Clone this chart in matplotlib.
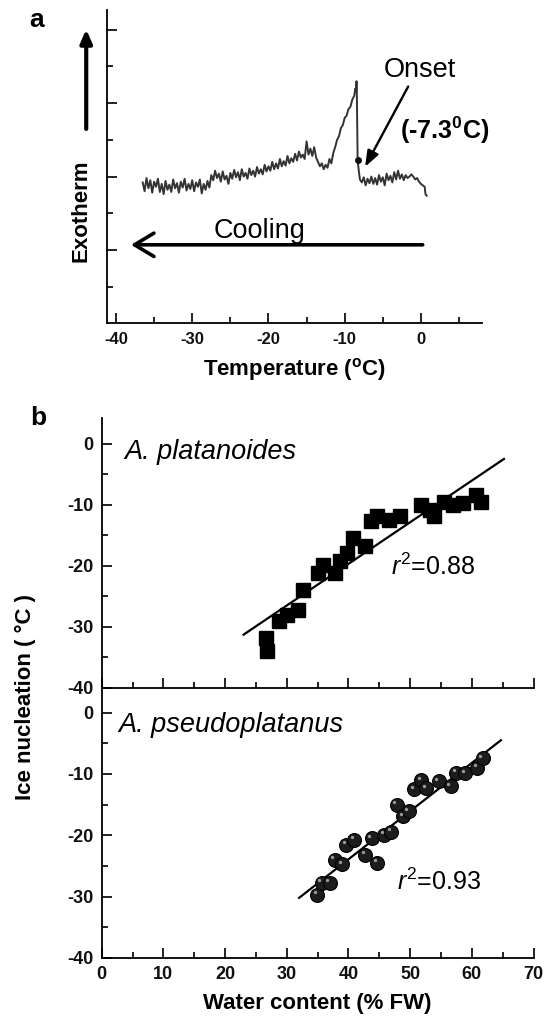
import numpy as np
import matplotlib
matplotlib.use("Agg")
import matplotlib.pyplot as plt
from matplotlib.ticker import FixedLocator, NullFormatter
from matplotlib.transforms import offset_copy

plt.rcParams['font.family'] = ['Liberation Sans', 'DejaVu Sans']
plt.rcParams['mathtext.fontset'] = 'custom'
plt.rcParams['mathtext.rm'] = 'Liberation Sans'
plt.rcParams['mathtext.it'] = 'Liberation Sans:italic'
plt.rcParams['mathtext.bf'] = 'Liberation Sans:bold'
plt.rcParams['axes.unicode_minus'] = False

# panel a: DSC cooling trace (noise included)
temp = [-36.50, -36.25, -36.00, -35.75, -35.50, -35.25, -35.00, -34.75, -34.50, -34.25,
        -34.00, -33.75, -33.50, -33.25, -33.00, -32.75, -32.50, -32.25, -32.00, -31.75,
        -31.50, -31.25, -31.00, -30.75, -30.50, -30.25, -30.00, -29.75, -29.50, -29.25,
        -29.00, -28.75, -28.50, -28.25, -28.00, -27.75, -27.50, -27.25, -27.00, -26.75,
        -26.50, -26.25, -26.00, -25.75, -25.50, -25.25, -25.00, -24.75, -24.50, -24.25,
        -24.00, -23.75, -23.50, -23.25, -23.00, -22.75, -22.50, -22.25, -22.00, -21.75,
        -21.50, -21.25, -21.00, -20.75, -20.50, -20.25, -20.00, -19.75, -19.50, -19.25,
        -19.00, -18.75, -18.50, -18.25, -18.00, -17.75, -17.50, -17.25, -17.00, -16.75,
        -16.50, -16.25, -16.00, -15.75, -15.50, -15.25, -15.00, -14.75, -14.50, -14.25,
        -14.00, -13.75, -13.50, -13.25, -13.00, -12.75, -12.50, -12.25, -12.00, -11.75,
        -11.50, -11.25, -11.00, -10.75, -10.50, -10.25, -10.00, -9.75, -9.50, -9.25,
        -9.00, -8.75, -8.60, -8.50, -8.45, -8.40, -8.35, -8.30, -8.15, -8.00,
        -7.75, -7.50, -7.25, -7.00, -6.75, -6.50, -6.25, -6.00, -5.75, -5.50,
        -5.25, -5.00, -4.75, -4.50, -4.25, -4.00, -3.75, -3.50, -3.25, -3.00,
        -2.75, -2.50, -2.25, -2.00, -1.75, -1.50, -1.25, -1.00, -0.75, -0.50,
        -0.25, 0.00, 0.25, 0.50, 0.60, 0.75]
signal = [1.92, 1.80, 1.98, 1.84, 1.95, 1.78, 1.93, 1.86, 1.97, 1.79,
          1.90, 1.76, 1.94, 1.82, 1.89, 1.79, 1.96, 1.84, 1.91, 1.78,
          1.93, 1.85, 1.97, 1.81, 1.90, 1.83, 1.95, 1.80, 1.92, 1.86,
          1.96, 1.77, 1.90, 1.82, 1.94, 1.85, 2.02, 1.95, 2.08, 1.98,
          2.04, 1.93, 2.07, 1.96, 2.01, 1.90, 2.05, 1.97, 2.09, 1.99,
          2.06, 1.95, 2.10, 2.00, 2.05, 1.97, 2.11, 2.02, 2.08, 2.00,
          2.13, 2.04, 2.10, 2.03, 2.16, 2.07, 2.14, 2.08, 2.20, 2.10,
          2.18, 2.11, 2.24, 2.14, 2.21, 2.15, 2.28, 2.18, 2.25, 2.20,
          2.31, 2.22, 2.34, 2.26, 2.30, 2.24, 2.48, 2.30, 2.38, 2.28,
          2.40, 2.26, 2.20, 2.14, 2.18, 2.10, 2.16, 2.12, 2.24, 2.18,
          2.32, 2.40, 2.50, 2.55, 2.66, 2.70, 2.80, 2.83, 2.92, 2.95,
          3.05, 3.10, 3.20, 3.15, 3.30, 3.10, 2.60, 2.22, 2.08, 1.96,
          1.92, 1.99, 1.88, 1.97, 1.91, 2.00, 1.90, 1.98, 1.89, 2.02,
          1.93, 1.99, 1.88, 2.04, 1.95, 2.01, 1.92, 2.06, 1.96, 2.08,
          1.97, 2.03, 1.95, 2.02, 1.98, 2.00, 2.03, 2.00, 1.96, 1.98,
          1.93, 1.90, 1.88, 1.86, 1.76, 1.74]
onset_t = -8.3
onset_s = 2.22

# panel b: ice nucleation vs water content
plat_wc = [26.7, 26.8, 28.7, 30.1, 31.9, 32.7, 35.0, 35.8, 37.8, 38.7,
           39.8, 40.7, 42.7, 43.7, 44.7, 46.6, 48.4, 51.8, 53.2, 53.8,
           55.5, 56.9, 58.6, 60.6, 61.4]
plat_ice = [-31.9, -34.0, -29.1, -28.0, -27.3, -24.0, -21.2, -19.9, -21.2, -19.3,
            -17.9, -15.5, -16.8, -12.7, -11.9, -12.5, -11.9, -10.0, -10.8, -11.9,
            -9.5, -10.0, -9.7, -8.4, -9.5]
plat_fit_x = [23.0, 65.2]
plat_fit_y = [-31.3, -2.5]

pseu_wc = [34.9, 35.7, 37.0, 37.8, 39.0, 39.6, 40.9, 42.7, 43.8, 44.7,
           45.8, 46.9, 47.8, 48.9, 49.8, 50.7, 51.8, 52.6, 54.6, 56.6,
           57.5, 58.9, 60.9, 61.8]
pseu_ice = [-29.7, -27.7, -27.7, -24.0, -24.7, -21.5, -20.7, -23.2, -20.5, -24.5,
            -19.9, -19.4, -15.0, -16.9, -16.1, -12.5, -11.0, -12.3, -11.2, -12.0,
            -9.8, -9.9, -9.0, -7.4]
pseu_fit_x = [32.0, 64.7]
pseu_fit_y = [-30.2, -4.5]


def style_axis(ax):
    ax.spines['top'].set_visible(False)
    ax.spines['right'].set_visible(False)
    ax.spines['left'].set_linewidth(1.3)
    ax.spines['bottom'].set_linewidth(1.3)
    ax.tick_params(which='both', direction='in', width=1.3, colors='#111111')
    ax.tick_params(which='major', length=7, labelsize=13, pad=6)
    ax.tick_params(which='minor', length=4)
    ax.patch.set_visible(False)


def main():
    fig = plt.figure(figsize=(5.52, 10.19), dpi=100)

    # ---- panel a ----
    ax = fig.add_axes([0.1944, 0.6827, 0.6786, 0.3075])
    style_axis(ax)
    ax.plot(temp, signal, color='#333333', lw=1.4)
    ax.plot([onset_t], [onset_s], 'o', color='#111111', ms=4)
    ax.set_xlim(-41.14, 8.0)
    ax.set_ylim(0, 4.27)
    ax.xaxis.set_major_locator(FixedLocator([-40, -30, -20, -10, 0]))
    ax.xaxis.set_minor_locator(FixedLocator([-35, -25, -15, -5, 5]))
    ax.yaxis.set_major_locator(FixedLocator([1, 2, 3, 4]))
    ax.yaxis.set_minor_locator(FixedLocator([0.5, 1.5, 2.5, 3.5]))
    ax.yaxis.set_major_formatter(NullFormatter())
    ax.tick_params(axis='x', labelsize=12)
    for lab in ax.get_xticklabels():
        lab.set_fontweight('bold')
    ax.set_xlabel(r'Temperature ($^\mathbf{o}$C)', fontsize=16, fontweight='bold', labelpad=7)

    ax.annotate('', xy=(-38.4, 1.07), xytext=(0.6, 1.07),
                arrowprops=dict(arrowstyle='->,head_length=1.0,head_width=0.6',
                                mutation_scale=14, lw=2.6, color='black'))
    ax.text(-21.2, 1.26, 'Cooling', fontsize=19.5, ha='center', va='center')
    ax.annotate('', xy=(-7.5, 2.1), xytext=(-1.5, 3.26),
                arrowprops=dict(arrowstyle='-|>,head_length=0.8,head_width=0.3',
                                mutation_scale=12, lw=1.7, color='black'))
    ax.text(-0.1, 3.45, 'Onset', fontsize=19.5, ha='center', va='center')
    ax.text(3.1, 2.63, r'(-7.3$^\mathbf{0}$C)', fontsize=18, fontweight='bold',
            ha='center', va='center')
    ax.annotate('', xy=(-0.0563, 0.947), xytext=(-0.0563, 0.6115),
                xycoords='axes fraction', textcoords='axes fraction',
                arrowprops=dict(arrowstyle='-|>,head_length=0.8,head_width=0.35',
                                mutation_scale=10, lw=3, color='black'),
                annotation_clip=False)
    ax.text(-0.0705, 0.3594, 'Exotherm', transform=ax.transAxes, rotation=90,
            fontsize=16, fontweight='bold', ha='center', va='center')
    fig.text(0.0668, 0.980, 'a', fontsize=19, fontweight='bold', ha='center', va='center')

    # ---- panel b, top ----
    ax1 = fig.add_axes([0.1842, 0.3251, 0.7824, 0.2650])
    style_axis(ax1)
    ax1.plot(plat_wc, plat_ice, 's', color='black', ms=10)
    ax1.plot(plat_fit_x, plat_fit_y, color='black', lw=1.6)
    ax1.set_xlim(0, 70)
    ax1.set_ylim(-40, 4.26)
    ax1.xaxis.set_major_locator(FixedLocator(list(range(0, 71, 10))))
    ax1.xaxis.set_minor_locator(FixedLocator(list(range(5, 70, 10))))
    ax1.xaxis.set_major_formatter(NullFormatter())
    ax1.yaxis.set_major_locator(FixedLocator([-40, -30, -20, -10, 0]))
    ax1.yaxis.set_minor_locator(FixedLocator([-35, -25, -15, -5]))
    for lab in ax1.get_yticklabels():
        lab.set_fontweight('bold')
    ax1.text(3.6, -1.4, 'A. platanoides', fontsize=19.5, style='italic', va='center')
    ax1.text(46.9, -20.1, r'$r^{2}$=0.88', fontsize=18, va='center')
    fig.text(0.0694, 0.5895, 'b', fontsize=19, fontweight='bold', ha='center', va='center')

    # ---- panel b, bottom ----
    ax2 = fig.add_axes([0.1842, 0.0599, 0.7824, 0.2653])
    style_axis(ax2)
    ax2.plot(pseu_fit_x, pseu_fit_y, color='black', lw=1.6, zorder=2)
    ax2.plot(pseu_wc, pseu_ice, 'o', color='#1c1c1c', mec='black', mew=0.8, ms=10, zorder=3)
    shine = offset_copy(ax2.transData, fig=fig, x=-1.8, y=1.8, units='points')
    ax2.plot(pseu_wc, pseu_ice, 'o', color='#9a9a9a', mec='none', ms=2.4,
             transform=shine, zorder=4)
    ax2.set_xlim(0, 70)
    ax2.set_ylim(-40, 4.08)
    ax2.xaxis.set_major_locator(FixedLocator(list(range(0, 71, 10))))
    ax2.xaxis.set_minor_locator(FixedLocator(list(range(5, 70, 10))))
    ax2.yaxis.set_major_locator(FixedLocator([-40, -30, -20, -10, 0]))
    ax2.yaxis.set_minor_locator(FixedLocator([-35, -25, -15, -5]))
    for lab in ax2.get_xticklabels() + ax2.get_yticklabels():
        lab.set_fontweight('bold')
    ax2.text(2.7, -2.0, 'A. pseudoplatanus', fontsize=19.5, style='italic', va='center')
    ax2.text(47.9, -27.6, r'$r^{2}$=0.93', fontsize=18, va='center')
    ax2.set_xlabel('Water content (% FW)', fontsize=16, fontweight='bold', labelpad=7)

    fig.text(0.047, 0.316, 'Ice nucleation ( °C )', rotation=90, fontsize=16,
             fontweight='bold', ha='center', va='center')

    fig.savefig('out.png', dpi=100)
    plt.close(fig)


if __name__ == "__main__":
    main()
